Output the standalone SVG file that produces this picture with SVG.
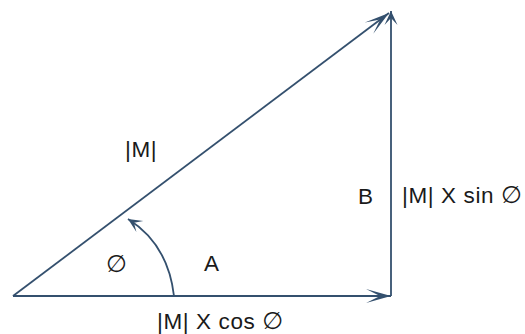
<svg xmlns="http://www.w3.org/2000/svg" width="525" height="334" viewBox="0 0 525 334">
  <style>
    .ln { fill: none; stroke: #34506e; stroke-width: 1.8; }
    .lbl { font-family: "Liberation Sans", Arial, "DejaVu Sans", sans-serif; font-size: 22.5px; letter-spacing: 0.6px; fill: #1a1a1a; }
    .phi { font-family: "DejaVu Sans", sans-serif; font-size: 24px; }
  </style>
  <defs>
    <marker id="big" viewBox="-26 -8 28 16" refX="0" refY="0" markerWidth="28" markerHeight="16" markerUnits="userSpaceOnUse" orient="auto">
      <path d="M0,0 L-25,-7 L-11,0 L-25,7 Z" fill="#34506e"/>
    </marker>
    <marker id="small" viewBox="-16 -8 18 16" refX="0" refY="0" markerWidth="18" markerHeight="16" markerUnits="userSpaceOnUse" orient="auto">
      <path d="M0,0 L-14,-6.5 L-7,0 L-14,6.5 Z" fill="#34506e"/>
    </marker>
  </defs>
  <rect width="525" height="334" fill="#ffffff"/>
  <g id="connectors">
    <path class="ln" d="M13,296 L391,296" marker-end="url(#big)"/>
    <path class="ln" d="M391,296 L391,11" marker-end="url(#small)"/>
    <path class="ln" d="M13,296 L389,13" marker-end="url(#big)"/>
    <path class="ln" d="M174,296 Q168,244 128,219" marker-end="url(#small)"/>
  </g>
  <g id="label-M">
    <text class="lbl" x="125" y="157">|M|</text>
  </g>
  <g id="label-B">
    <text class="lbl" x="358" y="204">B</text>
  </g>
  <g id="label-sin">
    <text class="lbl" x="402" y="203">|M| X sin <tspan class="phi">∅</tspan></text>
  </g>
  <g id="label-phi">
    <text class="lbl" x="106" y="272"><tspan class="phi">∅</tspan></text>
  </g>
  <g id="label-A">
    <text class="lbl" x="204" y="271">A</text>
  </g>
  <g id="label-cos">
    <text class="lbl" x="157" y="329">|M| X cos <tspan class="phi">∅</tspan></text>
  </g>
</svg>
